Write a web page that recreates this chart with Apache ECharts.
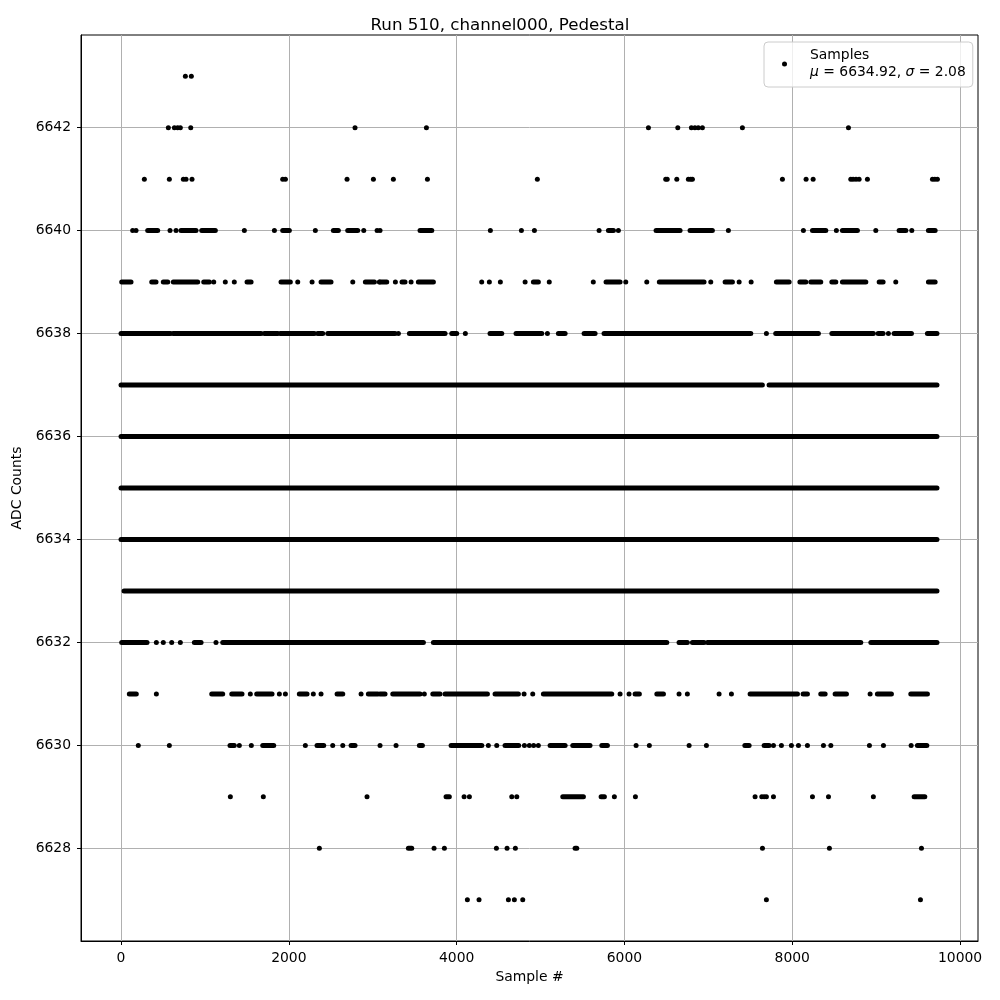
<!DOCTYPE html>
<html>
<head>
<meta charset="utf-8">
<script src="https://cdn.jsdelivr.net/npm/echarts@6/dist/echarts.min.js"></script>
<style>
  html, body { margin: 0; padding: 0; background: #fff; }
  #chart { width: 1000px; height: 1000px; }
</style>
</head>
<body>
<div id="chart"></div>
<script>
// labels
var titleText = 'Run 510, channel000, Pedestal';
var xName = 'Sample #';
var yName = 'ADC Counts';
var seriesName = 'Samples';
var muText = '6634.92';
var sigmaText = '2.08';

// tick labels
var xTicks = [0, 2000, 4000, 6000, 8000, 10000];
var yTicks = [6628, 6630, 6632, 6634, 6636, 6638, 6640, 6642];

// single samples (sample index) per ADC value
var pts6643 = [767, 838];
var pts6642 = [564, 636, 675, 707, 831, 2789, 3640, 6286, 6636, 6798, 6840, 6880, 6929, 7406, 8670];
var pts6641 = [278, 576, 743, 775, 846, 1927, 1959, 2694, 3008, 3246, 3652, 4962, 6492, 6510, 6624, 6762, 6790, 6810, 7883, 8165, 8249, 8698, 8725, 8760, 8797, 8896, 9671, 9700, 9730];
var pts6640 = [139, 179, 584, 656, 1470, 1828, 2316, 2893, 3052, 3087, 4402, 4772, 4927, 5698, 5928, 7239, 8133, 8526, 8996, 9425];
var pts6639 = [1105, 1243, 1350, 2106, 2277, 2762, 3079, 3270, 3457, 4299, 4390, 4521, 4816, 5104, 5629, 6016, 6266, 7029, 7367, 7510, 9234];
var pts6638 = [3306, 4104, 5082, 7692, 9146];
var pts6632 = [421, 504, 604, 707, 1132, 6663];
var pts6631 = [421, 1541, 1887, 1959, 2292, 2384, 2861, 3615, 4804, 4907, 5948, 6055, 6651, 6750, 7128, 7275, 8928];
var pts6630 = [206, 576, 1410, 1553, 2197, 2523, 2643, 3087, 3278, 4378, 4478, 4808, 4867, 4918, 4974, 6139, 6297, 6771, 6977, 7776, 7871, 7990, 8074, 8181, 8372, 8460, 8920, 9087, 9417];
var pts6629 = [1303, 1696, 2932, 4089, 4152, 4657, 4717, 5880, 6131, 7557, 7637, 7665, 7692, 7776, 8241, 8432, 8967];
var pts6628 = [2364, 3731, 3854, 4474, 4601, 4700, 7645, 8443, 9540];
var pts6627 = [4128, 4267, 4617, 4688, 4788, 7692, 9528];

// stretches of consecutive samples sitting on one ADC value [first, last]
var runs6640 = [[318, 437], [715, 894], [962, 1124], [1927, 2006], [2531, 2590], [2702, 2821], [3564, 3704], [5809, 5869], [6377, 6663], [6782, 7048], [8241, 8400], [8598, 8777], [9274, 9354], [9623, 9703]];
var runs6639 = [[8, 119], [366, 417], [504, 557], [623, 914], [986, 1053], [1502, 1550], [1907, 2018], [2384, 2503], [2912, 3020], [3087, 3167], [3349, 3385], [3544, 3723], [4915, 4974], [5781, 5948], [6416, 6949], [7200, 7287], [7811, 7963], [8091, 8162], [8221, 8340], [8472, 8519], [8598, 8877], [9036, 9083], [9623, 9703]];
var runs6638 = [[0, 588], [620, 1669], [1708, 1868], [1899, 2304], [2344, 2404], [2464, 3266], [3437, 3862], [3942, 4001], [4398, 4538], [4708, 5015], [5213, 5293], [5519, 5650], [5757, 7506], [7803, 8312], [8472, 8967], [9024, 9083], [9214, 9421], [9611, 9725]];
var runs6637 = [[0, 7644], [7724, 9725]];
var runs6636 = [[0, 9725]];
var runs6635 = [[0, 9725]];
var runs6634 = [[0, 9725]];
var runs6633 = [[36, 9725]];
var runs6632 = [[8, 310], [874, 954], [1212, 3604], [3723, 6505], [6651, 6750], [6810, 6949], [6990, 8817], [8937, 9725]];
var runs6631 = [[99, 182], [1081, 1212], [1320, 1442], [1617, 1800], [2125, 2217], [2575, 2643], [2948, 3060], [3087, 3147], [3239, 3564], [3716, 3802], [3862, 4367], [4458, 4736], [5034, 5849], [6127, 6178], [6386, 6465], [7498, 8062], [8129, 8181], [8340, 8392], [8511, 8646], [9015, 9182], [9413, 9611]];
var runs6630 = [[1299, 1350], [1689, 1820], [2336, 2416], [2742, 2789], [3556, 3592], [3934, 4300], [4577, 4740], [5114, 5293], [5384, 5590], [5730, 5797], [7435, 7486], [7665, 7724], [9492, 9604]];
var runs6629 = [[3874, 3913], [5265, 5511], [5722, 5761], [9453, 9580]];
var runs6628 = [[3425, 3465], [5412, 5432]];

var pointRows = [
  [6643, pts6643], [6642, pts6642], [6641, pts6641], [6640, pts6640], [6639, pts6639],
  [6638, pts6638], [6632, pts6632], [6631, pts6631], [6630, pts6630], [6629, pts6629],
  [6628, pts6628], [6627, pts6627]
];
var runRows = [
  [6640, runs6640], [6639, runs6639], [6638, runs6638], [6637, runs6637], [6636, runs6636],
  [6635, runs6635], [6634, runs6634], [6633, runs6633], [6632, runs6632], [6631, runs6631],
  [6630, runs6630], [6629, runs6629], [6628, runs6628]
];

var scatterData = [];
pointRows.forEach(function (row) {
  row[1].forEach(function (s) { scatterData.push([s, row[0]]); });
});
var runData = [];
runRows.forEach(function (row) {
  row[1].forEach(function (r) { runData.push([r[0], r[1], row[0]]); });
});

var font = 'DejaVu Sans';
var R = 2.5;

var myChart = echarts.init(document.getElementById('chart'));
var option = {
  animation: false,
  backgroundColor: '#fff',
  textStyle: { fontFamily: font },
  title: {
    text: titleText,
    left: 'center',
    top: 12,
    textStyle: { fontFamily: font, fontSize: 16.7, fontWeight: 'normal', color: '#000' }
  },
  grid: {
    left: 81, right: 22, top: 35, bottom: 59,
    show: true, borderColor: '#000', borderWidth: 1, backgroundColor: 'transparent'
  },
  legend: {
    left: 764,
    top: 42,
    padding: [5, 7, 6, 18],
    itemWidth: 5,
    itemHeight: 5,
    backgroundColor: 'rgba(255,255,255,0.8)',
    borderColor: '#cccccc',
    borderWidth: 1,
    borderRadius: 4,
    data: [{ name: seriesName, icon: 'circle' }],
    itemStyle: { color: '#000', opacity: 1 },
    formatter: function (name) {
      return name + '\n{it|μ} = ' + muText + ', {it|σ} = ' + sigmaText;
    },
    textStyle: {
      fontFamily: font, fontSize: 13.9, color: '#000', lineHeight: 17,
      padding: [0, 0, 0, 18],
      rich: { it: { fontFamily: font, fontStyle: 'italic', fontSize: 13.9, color: '#000', lineHeight: 17 } }
    }
  },
  xAxis: {
    type: 'value',
    min: -477,
    max: 10214,
    name: xName,
    nameLocation: 'middle',
    nameGap: 29,
    nameTextStyle: { fontFamily: font, fontSize: 13.9, color: '#000' },
    axisLine: { show: true, onZero: false, lineStyle: { color: '#000', width: 1 } },
    axisTick: { show: true, length: 4, lineStyle: { color: '#000' }, customValues: xTicks },
    axisLabel: {
      margin: 10, fontFamily: font, fontSize: 13.9, color: '#000', customValues: xTicks,
      formatter: function (v) { return String(v); }
    },
    splitLine: { show: true, lineStyle: { color: '#b0b0b0', width: 1 } }
  },
  yAxis: {
    type: 'value',
    min: 6626.2,
    max: 6643.8,
    name: yName,
    nameLocation: 'middle',
    nameRotate: 90,
    nameGap: 45,
    nameTextStyle: { fontFamily: font, fontSize: 13.9, color: '#000' },
    axisLine: { show: true, onZero: false, lineStyle: { color: '#000', width: 1 } },
    axisTick: { show: true, length: 4, lineStyle: { color: '#000' }, customValues: yTicks },
    axisLabel: {
      margin: 10, fontFamily: font, fontSize: 13.9, color: '#000', customValues: yTicks,
      formatter: function (v) { return String(v); }
    },
    splitLine: { show: true, lineStyle: { color: '#b0b0b0', width: 1 } }
  },
  series: [
    {
      name: seriesName,
      type: 'scatter',
      symbol: 'circle',
      symbolSize: 2 * R,
      itemStyle: { color: '#000', opacity: 1 },
      data: scatterData
    },
    {
      name: seriesName,
      type: 'custom',
      encode: { x: [0, 1], y: 2 },
      itemStyle: { color: '#000', opacity: 1 },
      renderItem: function (params, api) {
        var a = api.coord([api.value(0), api.value(2)]);
        var b = api.coord([api.value(1), api.value(2)]);
        return {
          type: 'rect',
          shape: { x: a[0] - R, y: a[1] - R, width: b[0] - a[0] + 2 * R, height: 2 * R, r: R },
          style: { fill: '#000' }
        };
      },
      data: runData
    }
  ]
};
option && myChart.setOption(option);
</script>
</body>
</html>
